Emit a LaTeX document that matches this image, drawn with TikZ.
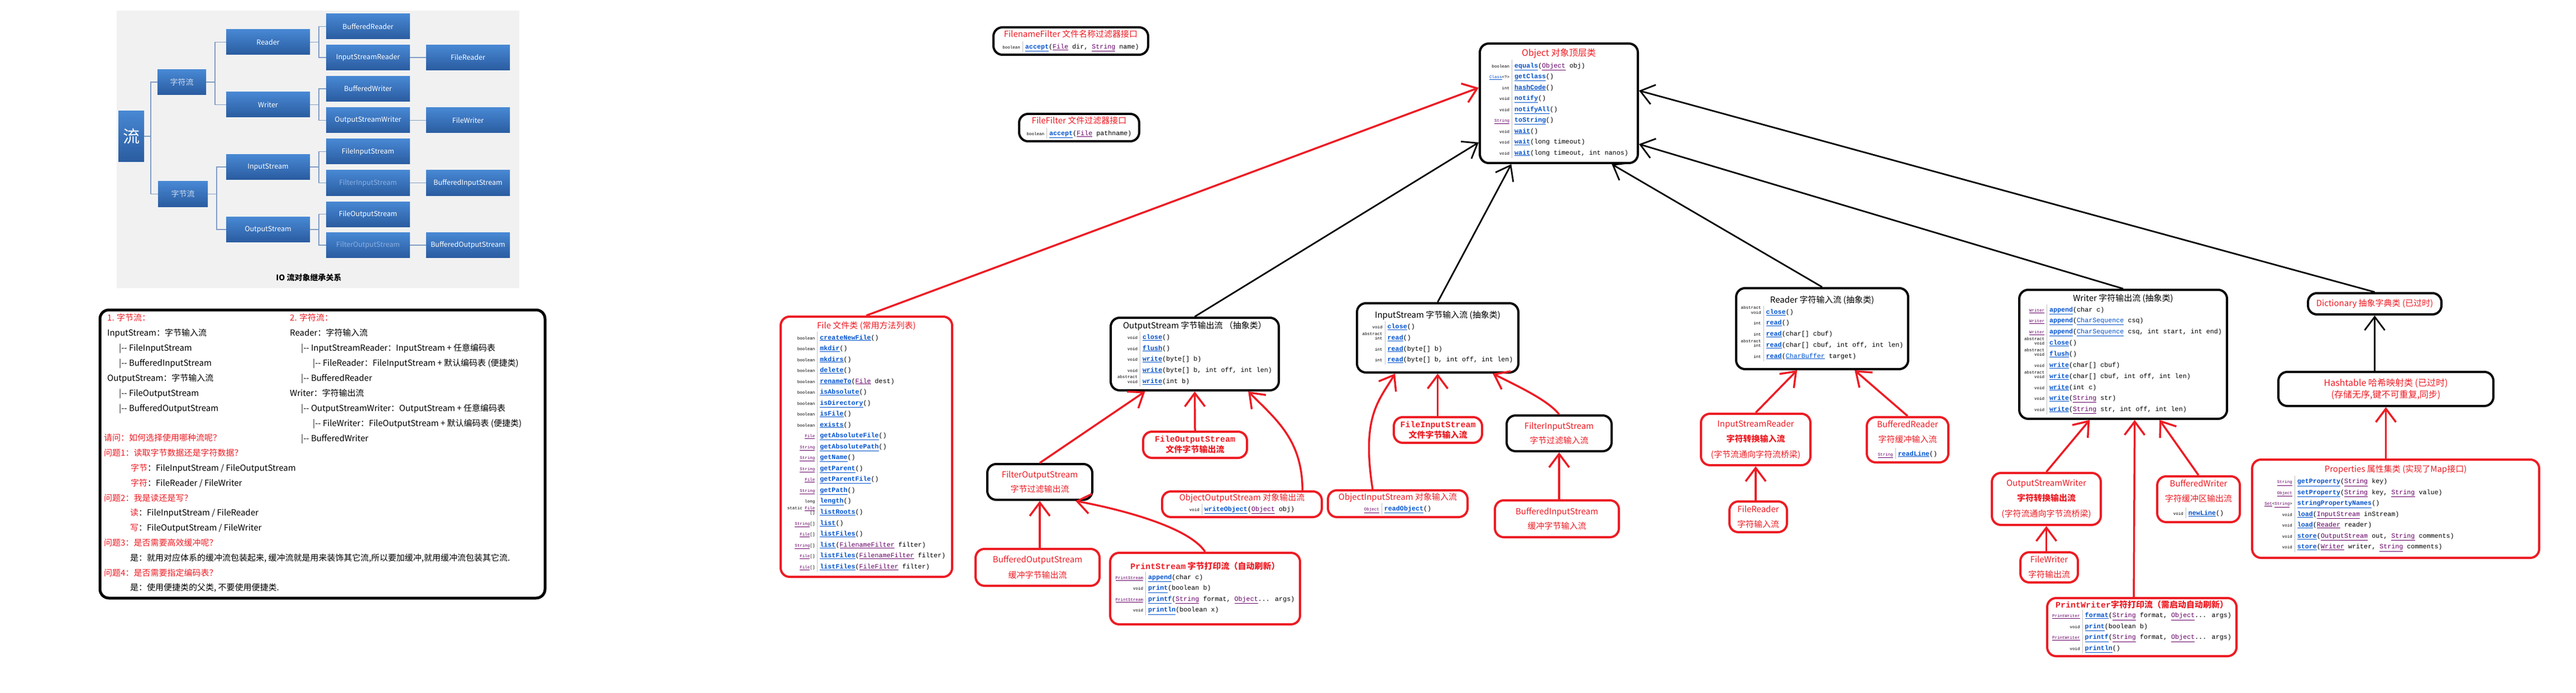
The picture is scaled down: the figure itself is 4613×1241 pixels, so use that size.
\documentclass[tikz,border=0pt]{standalone}
\usepackage{fontspec}
\usepackage{array}
\setmainfont{Noto Sans CJK SC}
\newfontfamily\code{Liberation Mono}
\usetikzlibrary{arrows.meta}
\usetikzlibrary{calc}

\definecolor{jred}{RGB}{237,28,36}
\definecolor{mblue}{RGB}{0,82,204}
\definecolor{tpurple}{RGB}{102,0,102}
\definecolor{iotop}{RGB}{72,136,212}
\definecolor{iobot}{RGB}{42,92,160}
\definecolor{ioline}{RGB}{128,156,196}
\definecolor{iofade}{RGB}{140,176,226}
\definecolor{iolite}{RGB}{205,218,238}
\definecolor{iobg}{RGB}{241,241,241}

%% method lists
\newcommand\mn[1]{\textcolor{mblue}{\underline{\textbf{#1}}}}
\newcommand\tn[1]{\textcolor{tpurple}{\underline{#1}}}
\newcommand\bn[1]{\textcolor{mblue}{\underline{#1}}}
\newcommand\ty[1]{{\fontsize{7.5}{8.5}\selectfont #1}}
\newcommand\tyy[2]{\ty{\begin{tabular}[b]{@{}r@{}}#1\\\relax #2\end{tabular}}}
\newcommand\mtab[1]{{\color{black}\code\fontsize{11.7}{19.5}\selectfont
  \begin{tabular}{@{}r@{\hspace{4pt}\textcolor{black!25}{\vrule width 1pt}\hspace{4pt}}l@{}}#1\end{tabular}}}
\newcommand\kid{|-{}- }

\begin{document}
\begin{tikzpicture}[x=1pt,y=-1pt,
  iobox/.style={minimum width=150pt, minimum height=45pt, inner sep=0pt, top color=iotop, bottom color=iobot, text=white, font=\fontsize{12.5}{14}\selectfont},
  ioln/.style={draw=ioline, line width=1.5pt},
  cls/.style={draw=black, line width=4pt, rounded corners=16pt, inner sep=3pt, align=center, font=\fontsize{15}{19}\selectfont},
  bcls/.style={cls, text=jred},
  rcls/.style={cls, draw=jred, text=jred},
  ext/.style={draw=black, line width=2.8pt, -{Straight Barb[length=24pt,width=36pt]}},
  rext/.style={ext, draw=jred, line width=3.5pt},
  txt/.style={anchor=north west, align=left, inner sep=0pt, font=\fontsize{15}{27}\selectfont}]
\useasboundingbox (0,0) rectangle (4613,1241);
\fill[white] (0,0) rectangle (4613,1241);

%% IO tree
\fill[iobg] (209,19) rectangle (930,516);
\node[iobox, minimum width=46pt, minimum height=91pt, font=\fontsize{30}{30}\selectfont] (t-liu) at (235,244) {流};
\node[iobox, minimum width=87pt, text=iolite, font=\fontsize{14}{16}\selectfont] (t-zifu) at (325.5,147) {字符流};
\node[iobox, minimum width=89pt, text=iolite, font=\fontsize{14}{16}\selectfont] (t-zijie) at (327.5,347.5) {字节流};
\foreach \nm/\txt/\y in {reader/Reader/75.5, writer/Writer/187.5, ins/InputStream/299, outs/OutputStream/411}
  \node[iobox] (t-\nm) at (480,\y) {\txt};
\foreach \nm/\txt/\y in {bufreader/BufferedReader/47.5, isreader/InputStreamReader/103, bufwriter/BufferedWriter/159, oswriter/OutputStreamWriter/215.5, fileins/FileInputStream/271.5, fileouts/FileOutputStream/383.5}
  \node[iobox] (t-\nm) at (659,\y) {\txt};
\foreach \nm/\txt/\y in {filterins/FilterInputStream/327.5, filterouts/FilterOutputStream/439}
  \node[iobox, text=iofade] (t-\nm) at (659,\y) {\txt};
\foreach \nm/\txt/\y in {filereader/FileReader/103, filewriter/FileWriter/215.5, bufins/BufferedInputStream/327.5, bufouts/BufferedOutputStream/439}
  \node[iobox] (t-\nm) at (838,\y) {\txt};
\draw[ioln] (t-liu.east) -- ++(12,0) |- (t-zifu.west) (t-liu.east) ++(12,0) |- (t-zijie.west);
\foreach \p/\a/\b in {zifu/reader/writer, zijie/ins/outs, reader/bufreader/isreader, writer/bufwriter/oswriter, ins/fileins/filterins, outs/fileouts/filterouts}
  \draw[ioln] (t-\p.east) -- ++(16,0) |- (t-\a.west) (t-\p.east) ++(16,0) |- (t-\b.west);
\foreach \a/\b in {isreader/filereader, oswriter/filewriter, filterins/bufins, filterouts/bufouts}
  \draw[ioln] (t-\a) -- (t-\b);
\node[font=\bfseries\fontsize{14}{16}\selectfont] (iocap) at (553,497) {IO 流对象继承关系};

%% notes box
\draw[line width=5pt, rounded corners=16pt] (179,555) rectangle (976,1071);
\node[txt] (bytetxt) at (192,562) {\textcolor{jred}{1. 字节流：}\\
  InputStream：字节输入流\\
  \hspace*{21pt}\kid FileInputStream\\
  \hspace*{21pt}\kid BufferedInputStream\\
  OutputStream：字节输入流\\
  \hspace*{21pt}\kid FileOutputStream\\
  \hspace*{21pt}\kid BufferedOutputStream};
\node[txt] (chartxt) at (519,562) {\textcolor{jred}{2. 字符流：}\\
  Reader：字符输入流\\
  \hspace*{20pt}\kid InputStreamReader：InputStream + 任意编码表\\
  \hspace*{41pt}\kid FileReader：FileInputStream + 默认编码表 (便捷类)\\
  \hspace*{20pt}\kid BufferedReader\\
  Writer：字符输出流\\
  \hspace*{20pt}\kid OutputStreamWriter：OutputStream + 任意编码表\\
  \hspace*{41pt}\kid FileWriter：FileOutputStream + 默认编码表 (便捷类)\\
  \hspace*{20pt}\kid BufferedWriter};
\node[txt, font=\fontsize{15}{26.8}\selectfont] (asktxt) at (186,777) {\textcolor{jred}{请问：如何选择使用哪种流呢？}\\
  \textcolor{jred}{问题1：读取字节数据还是字符数据？}\\
  \hspace*{48pt}\textcolor{jred}{字节}：FileInputStream / FileOutputStream\\
  \hspace*{48pt}\textcolor{jred}{字符}：FileReader / FileWriter\\
  \textcolor{jred}{问题2：我是读还是写？}\\
  \hspace*{47pt}\textcolor{jred}{读}：FileInputStream / FileReader\\
  \hspace*{47pt}\textcolor{jred}{写}：FileOutputStream / FileWriter\\
  \textcolor{jred}{问题3：是否需要高效缓冲呢？}\\
  \hspace*{47pt}是：就用对应体系的缓冲流包装起来, 缓冲流就是用来装饰其它流,所以要加缓冲,就用缓冲流包装其它流.\\
  \textcolor{jred}{问题4：是否需要指定编码表？}\\
  \hspace*{47pt}是：使用便捷类的父类, 不要使用便捷类.};

%% classes
\node[bcls, minimum width=277pt, minimum height=49pt] (fnfilter) at (1917.5,73.5) {FilenameFilter 文件名称过滤器接口\\[1pt]\mtab{\ty{boolean} & \mn{accept}(\tn{File} dir, \tn{String} name)}};
\node[bcls, minimum width=215pt, minimum height=49pt] (ffilter) at (1932.5,228.5) {FileFilter 文件过滤器接口\\[1pt]\mtab{\ty{boolean} & \mn{accept}(\tn{File} pathname)}};
\node[bcls, minimum width=283pt, minimum height=214pt, font=\fontsize{16}{19}\selectfont] (object) at (2791.5,185) {Object 对象顶层类\\[2pt]\mtab{\ty{boolean} & \mn{equals}(\tn{Object} obj)\\
  \ty{\bn{Class}<?>} & \mn{getClass}()\\
  \ty{int} & \mn{hashCode}()\\
  \ty{void} & \mn{notify}()\\
  \ty{void} & \mn{notifyAll}()\\
  \ty{\tn{String}} & \mn{toString}()\\
  \ty{void} & \mn{wait}()\\
  \ty{void} & \mn{wait}(long timeout)\\
  \ty{void} & \mn{wait}(long timeout, int nanos)}};
\node[rcls, minimum width=307pt, minimum height=466pt] (file) at (1551.5,800) {File 文件类 (常用方法列表)\\[2pt]\mtab{\ty{boolean} & \mn{createNewFile}()\\
  \ty{boolean} & \mn{mkdir}()\\
  \ty{boolean} & \mn{mkdirs}()\\
  \ty{boolean} & \mn{delete}()\\
  \ty{boolean} & \mn{renameTo}(\tn{File} dest)\\
  \ty{boolean} & \mn{isAbsolute}()\\
  \ty{boolean} & \mn{isDirectory}()\\
  \ty{boolean} & \mn{isFile}()\\
  \ty{boolean} & \mn{exists}()\\
  \ty{\tn{File}} & \mn{getAbsoluteFile}()\\
  \ty{\tn{String}} & \mn{getAbsolutePath}()\\
  \ty{\tn{String}} & \mn{getName}()\\
  \ty{\tn{String}} & \mn{getParent}()\\
  \ty{\tn{File}} & \mn{getParentFile}()\\
  \ty{\tn{String}} & \mn{getPath}()\\
  \ty{long} & \mn{length}()\\
  \tyy{static \tn{File}}{[]} & \mn{listRoots}()\\
  \ty{\tn{String}[]} & \mn{list}()\\
  \ty{\tn{File}[]} & \mn{listFiles}()\\
  \ty{\tn{String}[]} & \mn{list}(\tn{FilenameFilter} filter)\\
  \ty{\tn{File}[]} & \mn{listFiles}(\tn{FilenameFilter} filter)\\
  \ty{\tn{File}[]} & \mn{listFiles}(\tn{FileFilter} filter)}};

%% byte output
\node[cls, minimum width=301pt, minimum height=130pt] (outs) at (2139.5,634) {OutputStream 字节输出流 （抽象类）\\[1pt]\mtab{\ty{void} & \mn{close}()\\
  \ty{void} & \mn{flush}()\\
  \ty{void} & \mn{write}(byte[] b)\\
  \ty{void} & \mn{write}(byte[] b, int off, int len)\\
  \tyy{abstract}{void} & \mn{write}(int b)}};
\node[rcls, minimum width=186pt, minimum height=47pt, font=\bfseries\fontsize{15}{19}\selectfont] (fileouts) at (2140,796.5) {{\code FileOutputStream}\\文件字节输出流};
\node[bcls, minimum width=188pt, minimum height=64pt, font=\fontsize{15}{26}\selectfont] (filterouts) at (1862,863) {FilterOutputStream\\字节过滤输出流};
\node[rcls, minimum width=286pt, minimum height=46pt] (objouts) at (2224,903) {ObjectOutputStream 对象输出流\\[-1pt]\mtab{\ty{void} & \mn{writeObject}(\tn{Object} obj)}};
\node[rcls, minimum width=222pt, minimum height=66pt, font=\fontsize{15}{28}\selectfont] (bufouts) at (1858,1016) {BufferedOutputStream\\缓冲字节输出流};
\node[rcls, minimum width=340pt, minimum height=128pt] (prints) at (2158,1054) {{\bfseries{\code PrintStream} 字节打印流（自动刷新）}\\[2pt]\mtab{\ty{\tn{PrintStream}} & \mn{append}(char c)\\
  \ty{void} & \mn{print}(boolean b)\\
  \ty{\tn{PrintStream}} & \mn{printf}(\tn{String} format, \tn{Object}... args)\\
  \ty{void} & \mn{println}(boolean x)}};

%% byte input
\node[cls, minimum width=289pt, minimum height=124pt] (ins) at (2574.5,605) {InputStream 字节输入流 (抽象类)\\[1pt]\mtab{\ty{void} & \mn{close}()\\
  \tyy{abstract}{int} & \mn{read}()\\
  \ty{int} & \mn{read}(byte[] b)\\
  \ty{int} & \mn{read}(byte[] b, int off, int len)}};
\node[rcls, minimum width=158pt, minimum height=46pt, font=\bfseries\fontsize{15}{19}\selectfont] (fileins) at (2575,770) {{\code FileInputStream}\\文件字节输入流};
\node[bcls, minimum width=188pt, minimum height=64pt, font=\fontsize{15}{26}\selectfont] (filterins) at (2792,776) {FilterInputStream\\字节过滤输入流};
\node[rcls, minimum width=250pt, minimum height=48pt] (objins) at (2503,902) {ObjectInputStream 对象输入流\\[-1pt]\mtab{\ty{\tn{Object}} & \mn{readObject}()}};
\node[rcls, minimum width=222pt, minimum height=66pt, font=\fontsize{15}{26}\selectfont] (bufins) at (2788,929) {BufferedInputStream\\缓冲字节输入流};

%% char input
\node[cls, minimum width=308pt, minimum height=145pt] (reader) at (3263,588.5) {Reader 字符输入流 (抽象类)\\[1pt]\mtab{\tyy{abstract}{void} & \mn{close}()\\
  \ty{int} & \mn{read}()\\
  \ty{int} & \mn{read}(char[] cbuf)\\
  \tyy{abstract}{int} & \mn{read}(char[] cbuf, int off, int len)\\
  \ty{int} & \mn{read}(\bn{CharBuffer} target)}};
\node[rcls, minimum width=196pt, minimum height=92pt, font=\fontsize{15}{27.5}\selectfont] (isreader) at (3144,787) {InputStreamReader\\{\bfseries 字符转换输入流}\\(字节流通向字符流桥梁)};
\node[rcls, minimum width=146pt, minimum height=81pt, font=\fontsize{15}{27}\selectfont] (bufreader) at (3416,787.5) {BufferedReader\\字符缓冲输入流\\[-4pt]\mtab{\ty{\tn{String}} & \mn{readLine}()}};
\node[rcls, minimum width=103pt, minimum height=55pt, font=\fontsize{15}{27}\selectfont] (filereader) at (3148.5,925.5) {FileReader\\字符输入流};

%% char output
\node[cls, minimum width=372pt, minimum height=231pt] (writer) at (3802,634.5) {Writer 字符输出流 (抽象类)\\[1pt]\mtab{\ty{\tn{Writer}} & \mn{append}(char c)\\
  \ty{\tn{Writer}} & \mn{append}(\bn{CharSequence} csq)\\
  \ty{\tn{Writer}} & \mn{append}(\bn{CharSequence} csq, int start, int end)\\
  \tyy{abstract}{void} & \mn{close}()\\
  \tyy{abstract}{void} & \mn{flush}()\\
  \ty{void} & \mn{write}(char[] cbuf)\\
  \tyy{abstract}{void} & \mn{write}(char[] cbuf, int off, int len)\\
  \ty{void} & \mn{write}(int c)\\
  \ty{void} & \mn{write}(\tn{String} str)\\
  \ty{void} & \mn{write}(\tn{String} str, int off, int len)}};
\node[rcls, minimum width=195pt, minimum height=93pt, font=\fontsize{15}{27.5}\selectfont] (oswriter) at (3664.5,893.5) {OutputStreamWriter\\{\bfseries 字符转换输出流}\\(字符流通向字节流桥梁)};
\node[rcls, minimum width=148pt, minimum height=82pt, font=\fontsize{15}{27}\selectfont] (bufwriter) at (3937,894) {BufferedWriter\\字符缓冲区输出流\\[-4pt]\mtab{\ty{void} & \mn{newLine}()}};
\node[rcls, minimum width=103pt, minimum height=54pt, font=\fontsize{15}{27}\selectfont] (filewriter) at (3669.5,1016) {FileWriter\\字符输出流};
\node[rcls, minimum width=339pt, minimum height=104pt] (printwriter) at (3835.5,1123) {{\bfseries{\code PrintWriter}字符打印流（需启动自动刷新）}\\[1pt]\mtab{\ty{\tn{PrintWriter}} & \mn{format}(\tn{String} format, \tn{Object}... args)\\
  \ty{void} & \mn{print}(boolean b)\\
  \ty{\tn{PrintWriter}} & \mn{printf}(\tn{String} format, \tn{Object}... args)\\
  \ty{void} & \mn{println}()}};

%% map side
\node[bcls, minimum width=239pt, minimum height=38pt] (dict) at (4252.5,544) {Dictionary 抽象字典类 (已过时)};
\node[bcls, minimum width=385pt, minimum height=61pt, font=\fontsize{16}{21}\selectfont] (hashtable) at (4272.5,696.5) {Hashtable 哈希映射类 (已过时)\\(存储无序,键不可重复,同步)};
\node[rcls, minimum width=514pt, minimum height=176pt] (props) at (4290,911) {Properties 属性集类 (实现了Map接口)\\[2pt]\mtab{\ty{\tn{String}} & \mn{getProperty}(\tn{String} key)\\
  \ty{\tn{Object}} & \mn{setProperty}(\tn{String} key, \tn{String} value)\\
  \ty{\tn{Set}<\tn{String}>} & \mn{stringPropertyNames}()\\
  \ty{void} & \mn{load}(\tn{InputStream} inStream)\\
  \ty{void} & \mn{load}(\tn{Reader} reader)\\
  \ty{void} & \mn{store}(\tn{OutputStream} out, \tn{String} comments)\\
  \ty{void} & \mn{store}(\tn{Writer} writer, \tn{String} comments)}\hspace*{130pt}};

%% inheritance arrows
\draw[rext] (file.north) -- (object.169);
\draw[ext] (outs.north) -- (object.206);
\draw[ext] (ins.north) -- (object.232);
\draw[ext] (reader.north) -- (object.311);
\draw[ext] (writer.north) -- (object.333);
\draw[ext] (dict.north) -- (object.9);
\draw[rext] (fileouts.north) -- (outs.south);
\draw[rext] (filterouts.north) -- (outs.217);
\draw[rext] (objouts.13) .. controls +(0,-90) and +(50,50) .. (outs.325);
\draw[rext] (filterouts.south |- bufouts.north) -- (filterouts.south);
\draw[rext] (prints.north) .. controls +(-30,-45) and +(80,15) .. (filterouts.332);
\draw[rext] (ins.south |- fileins.north) -- (ins.south);
\draw[rext] (filterins.north) .. controls +(-20,-25) and +(50,25) .. (ins.327);
\draw[rext] (objins.150) .. controls +(-20,-130) and +(-30,50) .. (ins.220);
\draw[rext] (filterins.south |- bufins.north) -- (filterins.south);
\draw[rext] (isreader.north) -- (reader.239);
\draw[rext] (bufreader.north) -- (reader.308);
\draw[rext] (isreader.south |- filereader.north) -- (isreader.south);
\draw[rext] (oswriter.north) -- (writer.243);
\draw[rext] (bufwriter.north) -- (writer.299);
\draw[rext] (printwriter.105) -- (writer.280);
\draw[rext] (oswriter.south |- filewriter.north) -- (oswriter.south);
\draw[ext] (dict.south |- hashtable.north) -- (dict.south);
\draw[rext] (hashtable.south |- props.north) -- (hashtable.south);
\end{tikzpicture}
\end{document}
